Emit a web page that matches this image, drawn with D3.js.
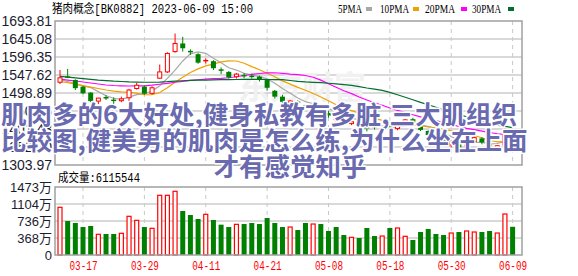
<!DOCTYPE html>
<html>
<head>
<meta charset="utf-8">
<script src="https://cdnjs.cloudflare.com/ajax/libs/d3/7.8.5/d3.min.js"></script>
<style>
  body { margin: 0; background: #fff; }
</style>
</head>
<body>
<div id="chart"></div>
<script>
// trading days 2023-03-14 .. 2023-06-09
var dates = ["03-14","03-15","03-16","03-17","03-20","03-21","03-22","03-23","03-24","03-27",
  "03-28","03-29","03-30","03-31","04-03","04-04","04-06","04-07","04-10","04-11",
  "04-12","04-13","04-14","04-17","04-18","04-19","04-20","04-21","04-24","04-25",
  "04-26","04-27","04-28","05-04","05-05","05-08","05-09","05-10","05-11","05-12",
  "05-15","05-16","05-17","05-18","05-19","05-22","05-23","05-24","05-25","05-26",
  "05-29","05-30","05-31","06-01","06-02","06-05","06-06","06-07","06-08","06-09"];

var opens = [1528,1543,1534,1516,1500,1477,1487,1480,1478,1486,
  1511,1516,1498,1539,1556,1611,1633,1612,1604,1585,
  1585,1562,1556,1543,1547,1545,1543,1534,1505,1489,
  1471,1475,1465,1463,1458,1445,1426,1424,1416,1419,
  1406,1409,1401,1411,1403,1417,1428,1408,1396,1386,
  1376,1358,1362,1344,1367,1376,1362,1351,1358,1392];
var highs = [1561,1564,1536,1518,1501,1486,1493,1487,1489,1510,
  1526,1519,1517,1576,1609,1660,1651,1617,1607,1593,
  1588,1568,1558,1553,1553,1551,1546,1537,1507,1494,
  1480,1479,1469,1468,1462,1450,1442,1430,1428,1422,
  1410,1412,1408,1416,1418,1428,1432,1411,1398,1390,
  1380,1372,1366,1364,1382,1379,1364,1358,1403,1396];
var lows = [1523,1539,1507,1496,1474,1469,1480,1469,1474,1477,
  1508,1494,1495,1537,1553,1608,1611,1602,1578,1579,
  1561,1550,1538,1538,1539,1538,1530,1505,1484,1464,
  1465,1469,1458,1455,1448,1432,1415,1416,1412,1408,
  1395,1400,1396,1398,1398,1410,1412,1396,1376,1380,
  1362,1352,1348,1340,1362,1360,1348,1346,1354,1378];
var closes = [1540,1541,1512,1498,1477,1485,1485,1478,1483,1507,
  1520,1497,1513,1556,1606,1633,1620,1610,1581,1588,
  1566,1560,1541,1550,1545,1543,1536,1513,1489,1475,
  1477,1473,1463,1461,1452,1438,1429,1422,1421,1410,
  1404,1407,1404,1402,1414,1426,1418,1399,1385,1384,
  1367,1369,1351,1362,1378,1365,1350,1356,1390,1382];

// volume in 万
var volumes = [1033,736,693,606,628,448,455,455,470,838,
  751,606,578,1293,1293,1380,953,866,780,881,
  758,657,606,664,671,693,671,801,693,606,
  606,541,693,671,671,520,606,433,383,368,
  585,411,411,585,585,405,325,498,563,455,
  433,476,498,520,498,498,520,476,888,611];
var volUp = [1,0,0,0,0,1,0,0,1,1, 1,0,1,1,1,1,0,0,0,1, 0,0,0,1,0,0,0,0,0,0,
  1,0,0,1,0,0,0,0,1,0, 0,0,1,0,1,1,0,0,0,0, 0,1,0,1,1,0,0,1,1,0];

var ma5 = [1535,1530,1524,1518,1513.6,1502.6,1491.4,1484.6,1481.6,1487.6,
  1494.6,1497,1504,1518.6,1538.4,1561,1585.6,1605,1610,1606.4,
  1593,1581,1567.2,1561,1552.4,1547.8,1543,1537.4,1525.2,1511.2,
  1498,1485.4,1475.4,1469.8,1465.2,1457.4,1448.6,1440.4,1432.4,1424,
  1417.2,1412.8,1409.2,1405.4,1406.2,1410.6,1412.8,1411.8,1408.4,1402.4,
  1390.6,1380.8,1371.2,1366.6,1365.4,1365,1361.2,1362.2,1367.8,1368.6];
var ma10 = [1530,1527,1523,1519,1515,1511,1507,1504,1502,1500.6,
  1498.6,1494.2,1494.3,1500.1,1513,1527.8,1541.3,1554.5,1564.3,1572.4,
  1577,1583.3,1586.1,1585.5,1579.4,1570.4,1562,1552.3,1543.1,1531.8,
  1522.9,1514.2,1506.4,1497.5,1488.2,1477.7,1467,1457.9,1451.1,1444.6,
  1437.3,1430.7,1424.8,1418.9,1415.1,1413.9,1412.8,1410.5,1406.9,1404.3,
  1400.6,1396.8,1391.5,1387.5,1383.9,1377.8,1371,1366.7,1367.2,1367];
var ma20 = [1536.8,1534,1531.4,1528.7,1526,1523.3,1520.6,1519.2,1518.4,1517.9,
  1518,1518.4,1520,1522.5,1525,1528,1530.5,1533,1534.8,1536.5,
  1537.8,1538.75,1540.2,1542.8,1546.2,1549.1,1551.65,1553.4,1553.7,1552.1,
  1549.95,1548.75,1546.25,1541.5,1533.8,1524.05,1514.5,1505.1,1497.1,1488.2,
  1480.1,1472.45,1465.6,1458.2,1451.65,1445.8,1439.9,1434.2,1429,1424.45,
  1418.95,1413.75,1408.15,1403.2,1399.5,1395.85,1391.9,1388.6,1387.05,1385.65];
var ma30 = [1544,1542,1540,1538,1536,1534,1532.5,1531,1530,1529,
  1528.5,1528,1528,1528.5,1529.5,1531,1532,1533,1533.5,1534,
  1534.5,1535,1535,1535.5,1536,1536,1536,1535.5,1535.2,1534.9,
  1532.8,1530.6,1528.9,1527.7,1526.9,1525.3,1523.4,1521.6,1519.5,1516.3,
  1512.4,1509.4,1505.8,1500.6,1494.2,1487.3,1480.6,1473.6,1467,1460.2,
  1453.6,1447.2,1440.9,1434.6,1429.1,1423.1,1416.9,1411.7,1408.4,1405.3];

var priceTicks = [1303.97,1352.70,1401.43,1450.16,1498.89,1547.62,1596.35,1645.08,1693.81];
var volTicks = [0,368,736,1104,1473];
var dateTicks = ["03-17","03-29","04-11","04-21","05-08","05-18","05-30","06-09"];

var maNames = ["5PMA","10PMA","20PMA","30PMA"];
var maColors = ["#a8a8a8","#f0a000","#ff00ff","#006e2e"];

var width = 578, height = 276;
var plotLeft = 55, plotRight = 522, plotTop = 21, plotBottom = 165, vTop = 187, vBottom = 255;
var monoFont = "'Liberation Mono','Noto Sans CJK SC',monospace";

var svg = d3.select("#chart").append("svg")
  .attr("width", width).attr("height", height)
  .style("font-family", "'Liberation Sans',Arial,sans-serif");

var x = d3.scalePoint().domain(dates).range([60, 512.6]);
var y = d3.scaleLinear().domain([1303.97, 1693.81]).range([plotBottom, plotTop]);
var yv = d3.scaleLinear().domain([0, 1473]).range([vBottom, vTop]);

// grid lines
svg.append("g").selectAll("line").data(priceTicks.slice(1, -1)).join("line")
  .attr("x1", plotLeft).attr("x2", plotRight)
  .attr("y1", d => y(d)).attr("y2", d => y(d))
  .attr("stroke", "#cccccc").attr("stroke-width", 1.5);
svg.append("g").selectAll("line").data(volTicks.slice(1, -1)).join("line")
  .attr("x1", plotLeft).attr("x2", plotRight)
  .attr("y1", d => yv(d)).attr("y2", d => yv(d))
  .attr("stroke", "#cccccc").attr("stroke-width", 1.5);
[[plotTop, plotBottom], [vTop, vBottom]].forEach(function(r) {
  svg.append("g").selectAll("line").data(dateTicks).join("line")
    .attr("x1", d => x(d)).attr("x2", d => x(d))
    .attr("y1", r[0]).attr("y2", r[1])
    .attr("stroke", "#c8c8c8").attr("stroke-dasharray", "4,4");
});

// faint site watermark
svg.append("text").attr("x", 238).attr("y", 99)
  .text("东方财富")
  .style("font-family", "'Noto Sans CJK SC'").style("font-weight", "bold")
  .style("font-size", "32px").attr("fill", "#f1f1f1");

// moving averages
var line = d3.line().x((d, i) => x(dates[i])).y(d => y(d));
[ma5, ma10, ma20, ma30].forEach(function(s, k) {
  svg.append("path").datum(s).attr("d", line)
    .attr("fill", "none").attr("stroke", maColors[k]).attr("stroke-width", 1.2);
});

// candles
svg.append("g").selectAll("g").data(dates).join("g").each(function(d, i) {
  var g = d3.select(this), cx = x(d);
  var up = closes[i] > opens[i];
  var col = up ? "#ff0000" : "#008000";
  var yt = y(Math.max(opens[i], closes[i])), yb = y(Math.min(opens[i], closes[i]));
  g.append("line").attr("x1", cx).attr("x2", cx)
    .attr("y1", y(highs[i])).attr("y2", y(lows[i])).attr("stroke", col);
  if (yb - yt < 1.5) {
    g.append("line").attr("x1", cx - 2.5).attr("x2", cx + 2.5)
      .attr("y1", (yt + yb) / 2).attr("y2", (yt + yb) / 2)
      .attr("stroke", col).attr("stroke-width", 1.5);
  } else if (up) {
    g.append("rect").attr("x", cx - 2).attr("y", yt).attr("width", 4).attr("height", yb - yt)
      .attr("fill", "#fff").attr("stroke", col);
  } else {
    g.append("rect").attr("x", cx - 2.5).attr("y", yt).attr("width", 5).attr("height", yb - yt)
      .attr("fill", col);
  }
});

// volume bars
svg.append("g").selectAll("rect").data(volumes).join("rect")
  .attr("x", (d, i) => x(dates[i]) - (volUp[i] ? 2 : 2.5))
  .attr("y", d => yv(d))
  .attr("width", (d, i) => volUp[i] ? 4 : 5)
  .attr("height", d => vBottom - yv(d))
  .attr("fill", (d, i) => volUp[i] ? "#fff" : "#008000")
  .attr("stroke", (d, i) => volUp[i] ? "#ff0000" : "none")
  .attr("stroke-width", 1.2);

// frames
svg.append("rect").attr("x", plotLeft).attr("y", plotTop).attr("width", plotRight - plotLeft).attr("height", plotBottom - plotTop)
  .attr("fill", "none").attr("stroke", "#a0a0a0").attr("stroke-width", 1.5);
svg.append("rect").attr("x", plotLeft).attr("y", vTop).attr("width", plotRight - plotLeft).attr("height", vBottom - vTop)
  .attr("fill", "none").attr("stroke", "#a0a0a0").attr("stroke-width", 1.5);

// axes
var ay = svg.append("g").attr("transform", "translate(" + plotLeft + ",0)")
  .call(d3.axisLeft(y).tickValues(priceTicks).tickFormat(d3.format(".2f")).tickSize(0).tickPadding(3));
var av = svg.append("g").attr("transform", "translate(" + plotLeft + ",0)")
  .call(d3.axisLeft(yv).tickValues(volTicks).tickFormat(d => d === 0 ? "0" : d + "万").tickSize(0).tickPadding(3));
[ay, av].forEach(function(a) {
  a.select(".domain").remove();
  a.selectAll("text").attr("fill", "#1c1c30").style("font-family", "'Liberation Sans','Noto Sans CJK SC',sans-serif");
});
ay.selectAll("text").style("font-size", "14px");
av.selectAll("text").style("font-size", "13px");

var ax = svg.append("g").attr("transform", "translate(0," + vBottom + ")")
  .call(d3.axisBottom(x).tickValues(dateTicks).tickSize(0).tickPadding(6));
ax.select(".domain").remove();
ax.selectAll("text").attr("fill", "#ff0000").style("font-family", monoFont)
  .style("font-size", "12px").attr("textLength", 28).attr("lengthAdjust", "spacingAndGlyphs");

// header + legend
svg.append("text").attr("x", 52).attr("y", 13).text("猪肉概念[BK0882] 2023-06-09 15:00")
  .style("font-family", monoFont).style("font-size", "12px")
  .attr("textLength", 201).attr("lengthAdjust", "spacingAndGlyphs");
var legX = [338, 380, 425, 472], legW = [24, 29, 30, 29], swX = [366, 413, 461, 508];
maNames.forEach(function(n, k) {
  svg.append("text").attr("x", legX[k]).attr("y", 13).text(n)
    .style("font-family", "'Liberation Serif',serif").style("font-size", "12px")
    .attr("textLength", legW[k]).attr("lengthAdjust", "spacingAndGlyphs");
  svg.append("rect").attr("x", swX[k]).attr("y", 7).attr("width", 6).attr("height", 4).attr("fill", maColors[k]);
});
svg.append("text").attr("x", 58).attr("y", 182).text("成交量:6115544")
  .style("font-family", monoFont).style("font-size", "12px")
  .attr("textLength", 82).attr("lengthAdjust", "spacingAndGlyphs");

// overlay caption
var caption = ["肌肉多的6大好处,健身私教有多脏,三大肌组织", "比较图,健美男的肌肉是怎么练,为什么坐在上面", "才有感觉知乎"];
var capX = [1, 1, 290], capY = [124, 150, 176];
caption.forEach(function(t, k) {
  svg.append("text").attr("x", capX[k]).attr("y", capY[k]).text(t)
    .attr("text-anchor", k === 2 ? "middle" : "start")
    .style("font-family", "'Noto Sans CJK SC'").style("font-weight", "bold").style("font-size", "25.5px")
    .attr("fill", "#6a6ab0").attr("stroke", "#fff").attr("stroke-width", 3)
    .attr("paint-order", "stroke").attr("stroke-linejoin", "round");
});
</script>
</body>
</html>
